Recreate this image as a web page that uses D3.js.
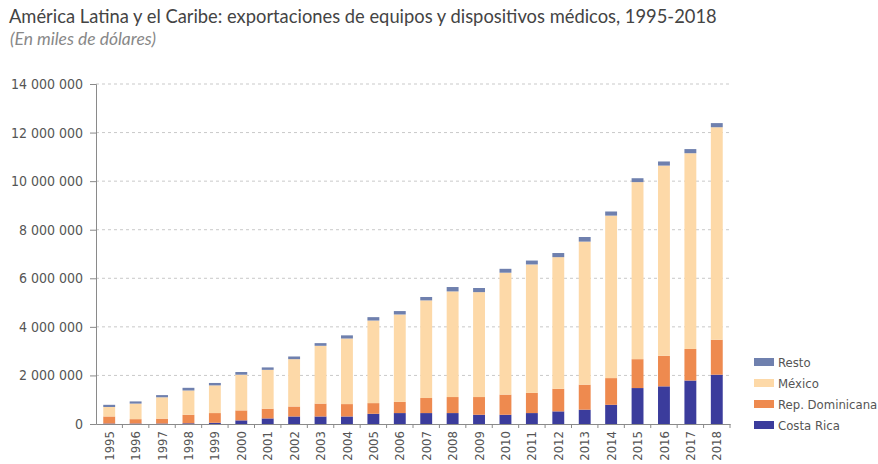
<!DOCTYPE html>
<html>
<head>
<meta charset="utf-8">
<script src="https://cdn.jsdelivr.net/npm/d3@7"></script>
<style>
  body { margin: 0; background: #fff; }
  svg { display: block; }
  .axis text { font-family: "Liberation Sans Narrow", "DejaVu Sans Condensed", sans-serif; fill: #555; }
</style>
</head>
<body>
<svg id="chart" width="878" height="464"></svg>
<script>
// values in miles de dólares
const years = d3.range(1995, 2019).map(String);
const costaRica = [20, 20, 20, 30, 50, 150, 230, 310, 310, 310, 420, 450, 450, 450, 380, 380, 450, 520, 590, 790, 1480, 1550, 1790, 2030].map(v => v * 1000);
const repDominicana = [290, 180, 200, 350, 400, 410, 400, 410, 530, 510, 440, 460, 620, 660, 730, 830, 830, 930, 1030, 1100, 1190, 1260, 1300, 1440].map(v => v * 1000);
const mexico = [390, 640, 880, 1000, 1140, 1470, 1600, 1950, 2380, 2700, 3400, 3600, 4020, 4350, 4320, 5020, 5290, 5420, 5890, 6690, 7290, 7830, 8060, 8750].map(v => v * 1000);
const resto = [90, 90, 90, 110, 100, 110, 100, 110, 110, 130, 140, 140, 140, 180, 170, 160, 160, 170, 190, 170, 160, 170, 170, 170].map(v => v * 1000);
const yTicks = [0, 2000000, 4000000, 6000000, 8000000, 10000000, 12000000, 14000000];

const seriesNames = ["Costa Rica", "Rep. Dominicana", "México", "Resto"];
const colors = ["#3b3c9c", "#ee8a4f", "#fdd9a8", "#6f80ae"];

const rows = years.map((y, i) => ({
  year: y,
  "Costa Rica": costaRica[i],
  "Rep. Dominicana": repDominicana[i],
  "México": mexico[i],
  "Resto": resto[i]
}));

const svg = d3.select("#chart");
const margin = { left: 96, right: 148, top: 84, bottom: 40 };
const width = 878, height = 464;

const x = d3.scaleBand()
  .domain(years)
  .range([margin.left, width - margin.right])
  .paddingInner(0.55)
  .paddingOuter(0.275);

const y = d3.scaleLinear()
  .domain([0, 14000000])
  .range([height - margin.bottom, margin.top]);

const color = d3.scaleOrdinal().domain(seriesNames).range(colors);
const fmt = d3.formatLocale({ decimal: ",", thousands: " ", grouping: [3], currency: ["", ""] }).format(",d");

// title
const title = svg.append("text")
  .attr("x", 9)
  .attr("y", 23)
  .style("font-family", "Lato, 'Open Sans', sans-serif")
  .style("font-size", "16px")
  .style("fill", "#444")
  .text("América Latina y el Caribe: exportaciones de equipos y dispositivos médicos, 1995-2018");
const tw = title.node().getComputedTextLength();
title.style("font-size", (16 * 708 / tw) + "px");

const sub = svg.append("text")
  .attr("x", 10)
  .attr("y", 45)
  .style("font-family", "Lato, 'Open Sans', sans-serif")
  .style("font-style", "italic")
  .style("font-size", "11px")
  .style("fill", "#888")
  .text("(En miles de dólares)");
const sw = sub.node().getComputedTextLength();
sub.style("font-size", (11 * 146 / sw) + "px");

// grid
svg.append("g")
  .selectAll("line")
  .data(yTicks.filter(d => d > 0))
  .join("line")
  .attr("x1", margin.left)
  .attr("x2", width - margin.right)
  .attr("y1", d => y(d))
  .attr("y2", d => y(d))
  .attr("stroke", "#c9c9c9")
  .attr("stroke-width", 1)
  .attr("stroke-dasharray", "3,3");

// bars
const stack = d3.stack().keys(seriesNames);
const layers = stack(rows);

svg.append("g")
  .selectAll("g")
  .data(layers)
  .join("g")
  .attr("fill", d => color(d.key))
  .selectAll("rect")
  .data(d => d)
  .join("rect")
  .attr("x", d => x(d.data.year))
  .attr("width", x.bandwidth())
  .attr("y", d => y(d[1]))
  .attr("height", d => y(d[0]) - y(d[1]));

// y axis
const yAxis = svg.append("g")
  .attr("class", "axis")
  .attr("transform", `translate(${margin.left},0)`)
  .call(d3.axisLeft(y).tickValues(yTicks).tickFormat(fmt).tickSize(6).tickPadding(7));
yAxis.selectAll("text").style("font-size", "14px");
yAxis.select(".domain").attr("stroke", "#8a8a8a");
yAxis.selectAll(".tick line").attr("stroke", "#8a8a8a");

// x axis
const xAxis = svg.append("g")
  .attr("class", "axis")
  .attr("transform", `translate(0,${y(0)})`)
  .call(d3.axisBottom(x).tickSize(0).tickPadding(0));
xAxis.select(".domain").attr("stroke", "#8a8a8a");
xAxis.selectAll("text")
  .style("font-size", "13px")
  .attr("text-anchor", "end")
  .attr("dy", "0.35em")
  .attr("transform", "translate(0,7) rotate(-90)");

// small ticks between the bars
const step = x.step();
svg.append("g")
  .selectAll("line")
  .data(years.slice(1).concat(["end"]))
  .join("line")
  .attr("x1", d => d === "end" ? width - margin.right : x(d) - step * x.paddingInner() / 2)
  .attr("x2", d => d === "end" ? width - margin.right : x(d) - step * x.paddingInner() / 2)
  .attr("y1", y(0))
  .attr("y2", y(0) + 4)
  .attr("stroke", "#8a8a8a");

// legend
const legendItems = seriesNames.slice().reverse();
const legend = svg.append("g")
  .selectAll("g")
  .data(legendItems)
  .join("g")
  .attr("transform", (d, i) => `translate(754,${362 + i * 21})`);

legend.append("rect")
  .attr("x", 0)
  .attr("y", -4)
  .attr("width", 20)
  .attr("height", 8)
  .attr("fill", d => color(d));

legend.append("text")
  .attr("x", 24)
  .attr("y", 0)
  .attr("dy", "0.35em")
  .style("font-family", "'Liberation Sans Narrow', 'DejaVu Sans Condensed', sans-serif")
  .style("font-size", "13px")
  .style("fill", "#555")
  .text(d => d);
</script>
</body>
</html>
